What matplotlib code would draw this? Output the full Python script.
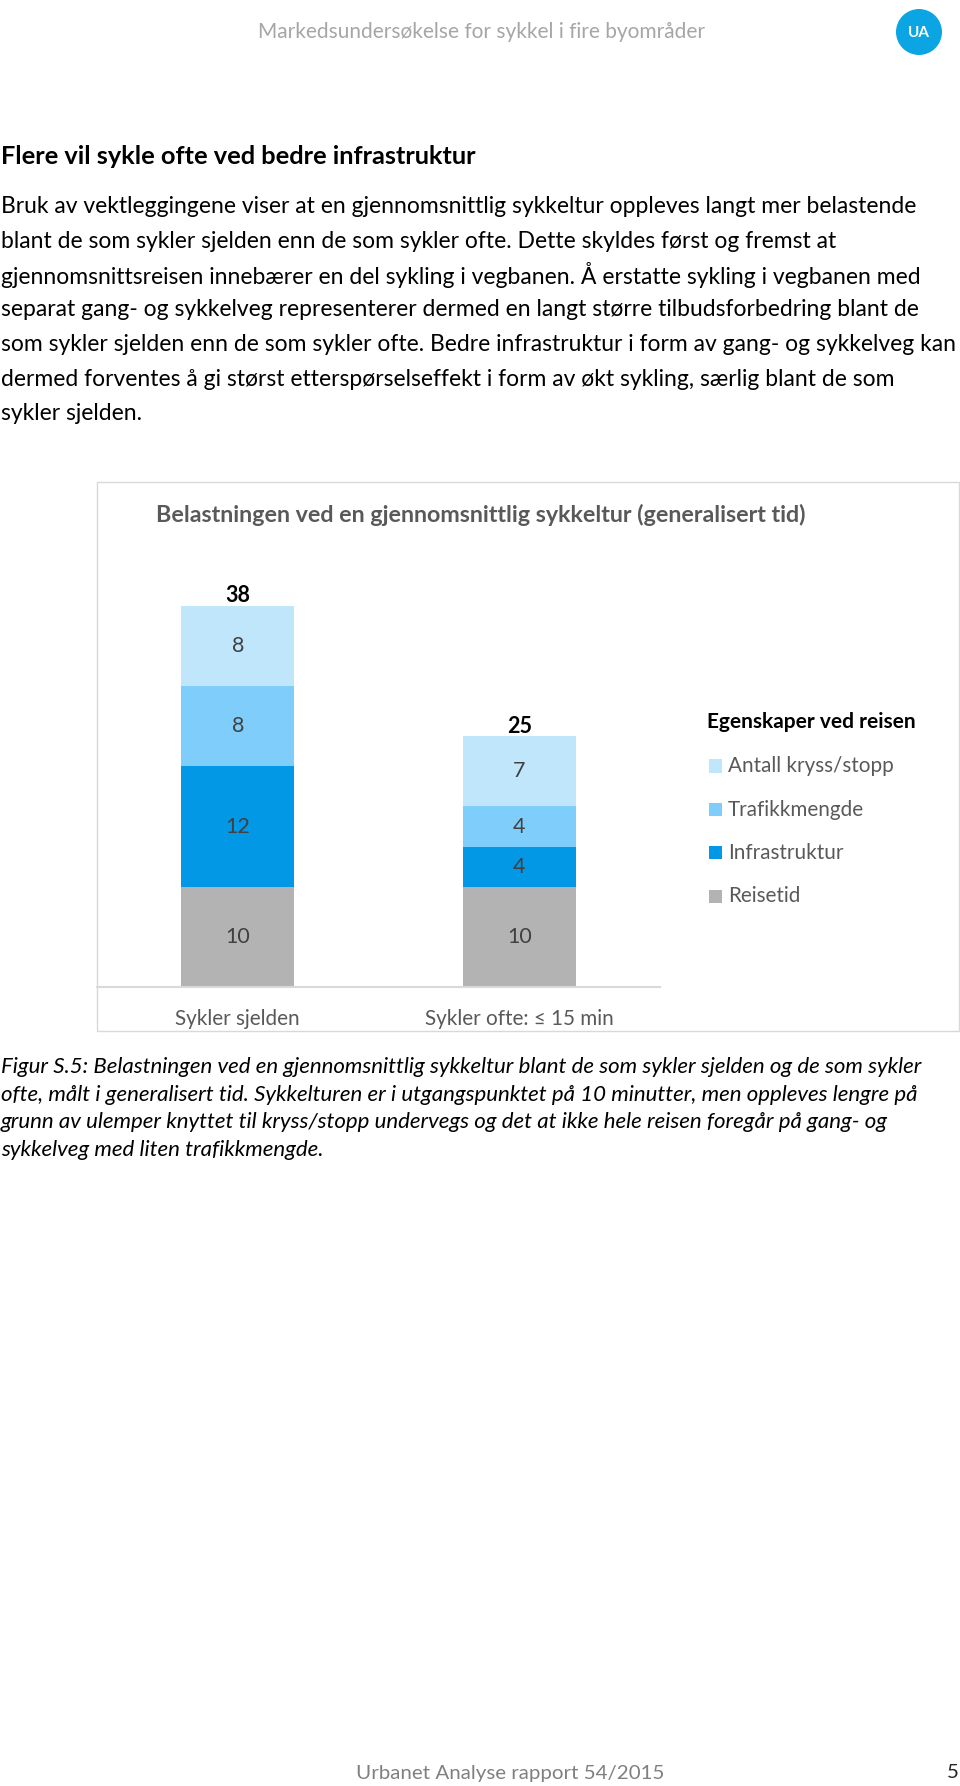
import matplotlib
matplotlib.use("Agg")
import matplotlib.pyplot as plt
from matplotlib.patches import Ellipse, Rectangle

# ---------------- data ----------------
categories = ["Sykler sjelden", "Sykler ofte: \u2264 15 min"]
components = ["Reisetid", "Infrastruktur", "Trafikkmengde", "Antall kryss/stopp"]
reisetid = [10, 10]
infrastruktur = [12, 4]
trafikkmengde = [8, 4]
kryss_stopp = [8, 7]
totals = [38, 25]
series = [reisetid, infrastruktur, trafikkmengde, kryss_stopp]
colors = ["#B3B3B3", "#0398E6", "#7FCDFB", "#C0E6FC"]

header = "Markedsundersøkelse for sykkel i fire byområder"
heading = "Flere vil sykle ofte ved bedre infrastruktur"
body = [
    "Bruk av vektleggingene viser at en gjennomsnittlig sykkeltur oppleves langt mer belastende",
    "blant de som sykler sjelden enn de som sykler ofte. Dette skyldes først og fremst at",
    "gjennomsnittsreisen innebærer en del sykling i vegbanen. Å erstatte sykling i vegbanen med",
    "separat gang- og sykkelveg representerer dermed en langt større tilbudsforbedring blant de",
    "som sykler sjelden enn de som sykler ofte. Bedre infrastruktur i form av gang- og sykkelveg kan",
    "dermed forventes å gi størst etterspørselseffekt i form av økt sykling, særlig blant de som",
    "sykler sjelden.",
]
chart_title = "Belastningen ved en gjennomsnittlig sykkeltur (generalisert tid)"
legend_title = "Egenskaper ved reisen"
caption = [
    "Figur S.5: Belastningen ved en gjennomsnittlig sykkeltur blant de som sykler sjelden og de som sykler",
    "ofte, målt i generalisert tid. Sykkelturen er i utgangspunktet på 10 minutter, men oppleves lengre på",
    "grunn av ulemper knyttet til kryss/stopp undervegs og det at ikke hele reisen foregår på gang- og",
    "sykkelveg med liten trafikkmengde.",
]
footer = "Urbanet Analyse rapport 54/2015"
page_no = "5"

# ---------------- layout helpers ----------------
W, H = 960, 1786
FONT = ["Lato", "DejaVu Sans"]
fig = plt.figure(figsize=(W / 100, H / 100), dpi=100)
fig.patch.set_facecolor("white")
renderer = fig.canvas.get_renderer()


def fx(x):
    return x / W


def fy(y):
    return 1 - y / H


def fit_size(s, width, **kw):
    t = fig.text(0, 0, s, fontsize=20, family=FONT, **kw)
    w = t.get_window_extent(renderer).width
    t.remove()
    return 20 * width / w


def put(s, x, y, size, ha="left", va="center", **kw):
    return fig.text(fx(x), fy(y), s, fontsize=size, family=FONT, ha=ha, va=va, **kw)


# ---------------- page header ----------------
hs = fit_size(header, 449)
put(header, 481, 32, hs, ha="center", color="#A6A6A6")
fig.patches.append(Ellipse((fx(919), fy(32)), 46 / W, 46 / H, transform=fig.transFigure,
                           facecolor="#0AA5E2", edgecolor="none"))
put("UA", 919, 33, 11, ha="center", color="white", weight="bold")

# ---------------- heading and body ----------------
ts = fit_size(heading, 476, weight="bold")
put(heading, 1, 157, ts, weight="bold", color="black")
bs = min(fit_size(body[0], 923), fit_size(body[4], 956))
for i, line in enumerate(body):
    put(line, 1, 206.5 + 34.5 * i, bs, color="black")

# ---------------- chart box ----------------
fig.patches.append(Rectangle((fx(97), fy(1031)), (959 - 97) / W, (1031 - 482) / H,
                             transform=fig.transFigure, facecolor="none",
                             edgecolor="#D9D9D9", lw=1.0))
cs = fit_size(chart_title, 652, weight="bold")
put(chart_title, 481, 515, cs, ha="center", color="#595959", weight="bold")

# ---------------- bar axes ----------------
px_per_unit = 10.03
ax_bottom, ax_top = 987, 987 - 40 * px_per_unit
ax = fig.add_axes([fx(97), fy(ax_bottom), (660 - 97) / W, (ax_bottom - ax_top) / H])
ax.set_xlim(-0.5, 1.5)
ax.set_ylim(0, 40)
ax.patch.set_alpha(0)
for sp in ["top", "right", "left"]:
    ax.spines[sp].set_visible(False)
ax.spines["bottom"].set_color("#D9D9D9")
ax.spines["bottom"].set_linewidth(1.5)
ax.set_yticks([])

xpos = list(range(len(categories)))
bottom = [0] * len(categories)
seg_size = 15.5
for vals, col in zip(series, colors):
    bars = ax.bar(xpos, vals, bottom=bottom, width=0.4, color=col, edgecolor="none")
    ax.bar_label(bars, labels=[str(v) for v in vals], label_type="center",
                 fontsize=seg_size, color="#404040", family=FONT)
    bottom = [b + v for b, v in zip(bottom, vals)]

for x, tot in zip(xpos, totals):
    ax.text(x, tot + 1.0, str(tot), ha="center", va="center", fontsize=seg_size,
            weight="bold", color="black", family=FONT)

ks = fit_size(categories[0], 125)
em = ks * 100 / 72
pad_px = (1022 - ax_bottom) - 0.62 * em
ax.set_xticks(xpos)
ax.set_xticklabels(categories, fontsize=ks, color="#595959", family=FONT)
ax.tick_params(axis="x", length=0, pad=pad_px * 72 / 100)

# ---------------- legend ----------------
lts = fit_size(legend_title, 208, weight="bold")
put(legend_title, 707, 722, lts, weight="bold", color="black")
ls = fit_size(components[3], 165)
leg_y = [766, 810, 853, 896]
for name, col, y in zip(components[::-1], colors[::-1], leg_y):
    fig.patches.append(Rectangle((fx(709), fy(y + 6.5)), 13 / W, 13 / H,
                                 transform=fig.transFigure, facecolor=col, edgecolor="none"))
    put(name, 728, y, ls, color="#595959")

# ---------------- caption ----------------
caps = fit_size(caption[0], 919, style="italic")
for i, line in enumerate(caption):
    put(line, 1, 1067 + 27.7 * i, caps, style="italic", color="black")

# ---------------- footer ----------------
fs = fit_size(footer, 308)
put(footer, 356, 1773, fs, color="#808080")
put(page_no, 953, 1773, fs, ha="center", color="#262626")

fig.savefig("out.png", dpi=100, facecolor="white")
